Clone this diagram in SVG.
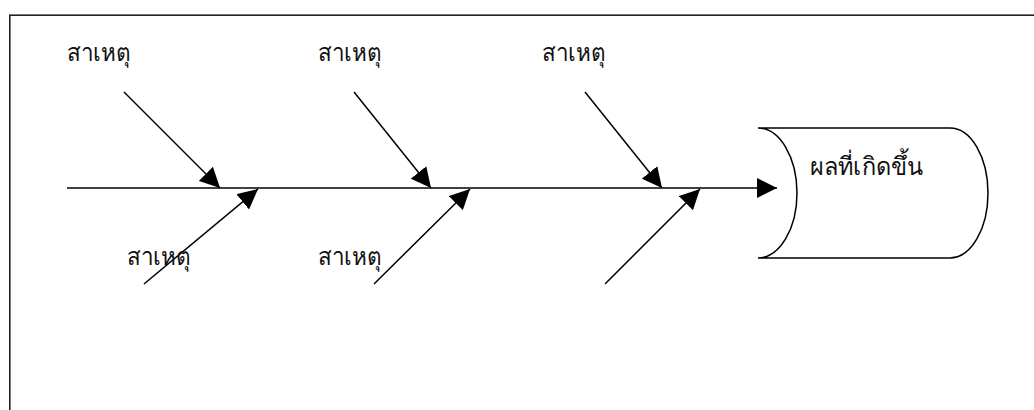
<svg xmlns="http://www.w3.org/2000/svg" width="1034" height="410" viewBox="0 0 1034 410">
<style>
.frame{fill:none;stroke:#222;stroke-width:1.6}
.bone{stroke:#000;stroke-width:1.5;fill:none;marker-end:url(#ah)}
.shape{fill:#fff;stroke:#000;stroke-width:1.5}
.lbl{font-family:"DejaVu Sans","Liberation Serif",serif;font-size:25px;fill:#111}
</style>
<defs>
<marker id="ah" markerUnits="userSpaceOnUse" markerWidth="20" markerHeight="20" refX="20" refY="10" orient="auto" viewBox="0 0 20 20">
<path d="M0,0 L20,10 L0,20 Z" fill="#000"/>
</marker>
</defs>
<rect class="frame" x="9.8" y="15.2" width="1040" height="420"/>
<g id="connectors">
<line class="bone" x1="67" y1="188" x2="777" y2="188"/>
<line class="bone" x1="124" y1="92" x2="220" y2="188"/>
<line class="bone" x1="354" y1="92" x2="431" y2="188"/>
<line class="bone" x1="585" y1="92" x2="662" y2="188"/>
<line class="bone" x1="144" y1="284" x2="258" y2="189"/>
<line class="bone" x1="374" y1="284" x2="470" y2="189"/>
<line class="bone" x1="605" y1="284" x2="700" y2="189"/>
</g>
<g id="effect">
<path class="shape" d="M758,128 L950,128 A38,65 0 0 1 950,258 L758,258 A39,65 0 0 0 758,128 Z"/>
<text class="lbl" x="810" y="175" textLength="113" lengthAdjust="spacingAndGlyphs">ผลที่เกิดขึ้น</text>
</g>
<g id="cause-top-1"><text class="lbl" x="67" y="61" textLength="63" lengthAdjust="spacingAndGlyphs">สาเหตุ</text></g>
<g id="cause-top-2"><text class="lbl" x="318" y="61" textLength="63" lengthAdjust="spacingAndGlyphs">สาเหตุ</text></g>
<g id="cause-top-3"><text class="lbl" x="542" y="61" textLength="63" lengthAdjust="spacingAndGlyphs">สาเหตุ</text></g>
<g id="cause-bottom-1"><text class="lbl" x="127" y="265" textLength="63" lengthAdjust="spacingAndGlyphs">สาเหตุ</text></g>
<g id="cause-bottom-2"><text class="lbl" x="318" y="265" textLength="63" lengthAdjust="spacingAndGlyphs">สาเหตุ</text></g>
</svg>
